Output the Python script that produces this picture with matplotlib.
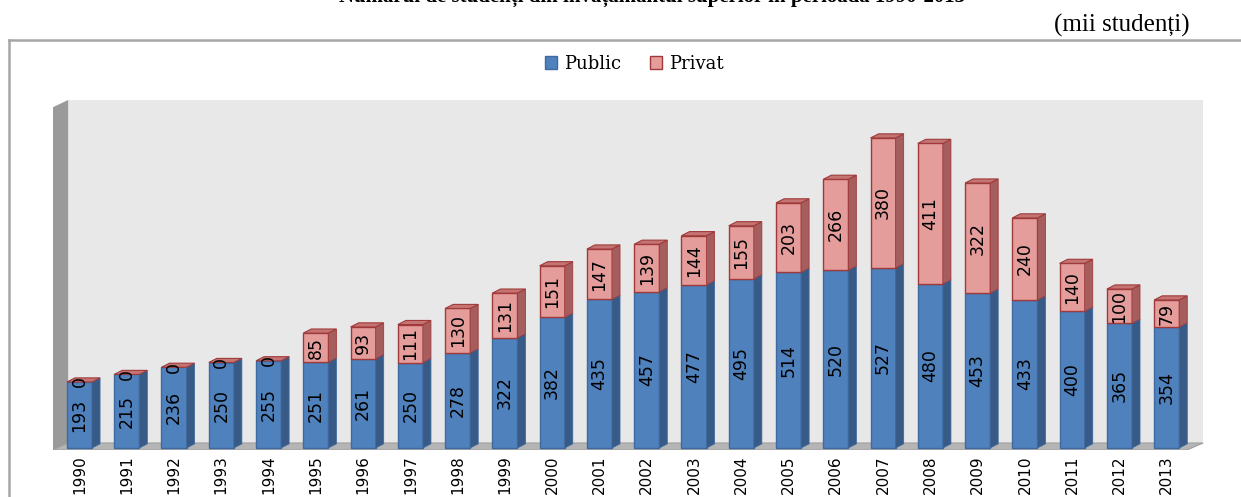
import matplotlib.pyplot as plt
from matplotlib.patches import Polygon, Rectangle, Patch
from matplotlib.lines import Line2D

# studenti inscrisi (mii), 1990-2013
years = [str(y) for y in range(1990, 2014)]
public = [193, 215, 236, 250, 255, 251, 261, 250, 278, 322, 382, 435,
          457, 477, 495, 514, 520, 527, 480, 453, 433, 400, 365, 354]
privat = [0, 0, 0, 0, 0, 85, 93, 111, 130, 131, 151, 147,
          139, 144, 155, 203, 266, 380, 411, 322, 240, 140, 100, 79]

title = "Numărul de studenți din învățământul superior în perioada 1990-2013"
unit_txt = "(mii studenți)"

narrow = ['DejaVu Sans Condensed', 'DejaVu Sans']
serif = ['Liberation Serif', 'DejaVu Serif']

blue, blue_side, blue_edge = '#4f81bd', '#375a86', '#3f6aa0'
pink, pink_side, pink_top, pink_edge = '#e59d9c', '#a65d5d', '#c47473', '#a03a3a'

W, H = 1241, 497
fig = plt.figure(figsize=(W / 100, H / 100), dpi=100)
ax = fig.add_axes([53 / W, (H - 450) / H, 1152 / W, 350 / H])
ax.set_xlim(-0.56, 23.81)
ax.set_ylim(-6, 1018)
for s in ax.spines.values():
    s.set_visible(False)
ax.set_yticks([])

# pseudo 3D walls
ax.add_patch(Rectangle((-0.24, 14.5), 24.01, 1003.5, fc='#e8e8e8', ec='none', zorder=0))
ax.add_patch(Polygon([(-0.56, -6), (-0.56, 997), (-0.24, 1018), (-0.24, 14.5)],
                     closed=True, fc='#9a9a9a', ec='none', zorder=0))
ax.add_patch(Polygon([(-0.56, -6), (23.43, -6), (23.77, 14.5), (-0.24, 14.5)],
                     closed=True, fc='#b5b5b5', ec='#a0a0a0', lw=0.8, zorder=0))

w = 0.53   # bar width
dx = 0.17  # depth offset
dy = 12


def box(x, y0, y1, front, side, edge, z):
    ax.add_patch(Rectangle((x - w / 2, y0), w, y1 - y0, fc=front, ec=edge, lw=1, zorder=z))
    ax.add_patch(Polygon([(x + w / 2, y0), (x + w / 2 + dx, y0 + dy),
                          (x + w / 2 + dx, y1 + dy), (x + w / 2, y1)],
                         closed=True, fc=side, ec=edge, lw=0.6, zorder=z))


for i in range(len(years)):
    pu, pr = public[i], privat[i]
    box(i, 0, pu, blue, blue_side, blue_edge, 2)
    if pr > 0:
        box(i, pu, pu + pr, pink, pink_side, pink_edge, 3)
    top = pu + pr
    ax.add_patch(Polygon([(i - w / 2, top), (i - w / 2 + dx, top + dy),
                          (i + w / 2 + dx, top + dy), (i + w / 2, top)],
                         closed=True, fc=pink_top, ec=pink_edge, lw=0.8, zorder=4))
    ax.text(i, pu / 2, str(pu), rotation=90, ha='center', va='center',
            fontsize=12.5, family=narrow, color='black', zorder=5)
    ax.text(i, pu + pr / 2, str(pr), rotation=90, ha='center', va='center',
            fontsize=12.5, family=narrow, color='black', zorder=5)

ax.set_xticks(range(len(years)), years, rotation=90, fontsize=11, family=narrow)
ax.tick_params(axis='x', length=0, pad=4)

# legend
handles = [Patch(fc=blue, ec=blue_edge, label='Public'),
           Patch(fc=pink, ec=pink_edge, label='Privat')]
fig.legend(handles=handles, ncol=2, loc='center', bbox_to_anchor=(634 / W, 1 - 64 / H),
           frameon=False, prop={'family': ['DejaVu Serif'], 'size': 13},
           handlelength=0.7, handleheight=0.7, handletextpad=0.35, columnspacing=1.6)

# chart frame
fig.add_artist(Line2D([9 / W, 1], [1 - 40 / H, 1 - 40 / H], color='#a6a6a6', lw=1.8))
fig.add_artist(Line2D([9 / W, 9 / W], [0, 1 - 40 / H], color='#a6a6a6', lw=1.8))

fig.text(1190 / W, 1 - 25 / H, unit_txt, ha='right', va='center', fontsize=18, family=serif)
fig.text(652 / W, 1 - 2 / H, title, ha='center', va='baseline', fontsize=15,
         fontweight='bold', family=serif)

fig.savefig('out.png', dpi=100)
